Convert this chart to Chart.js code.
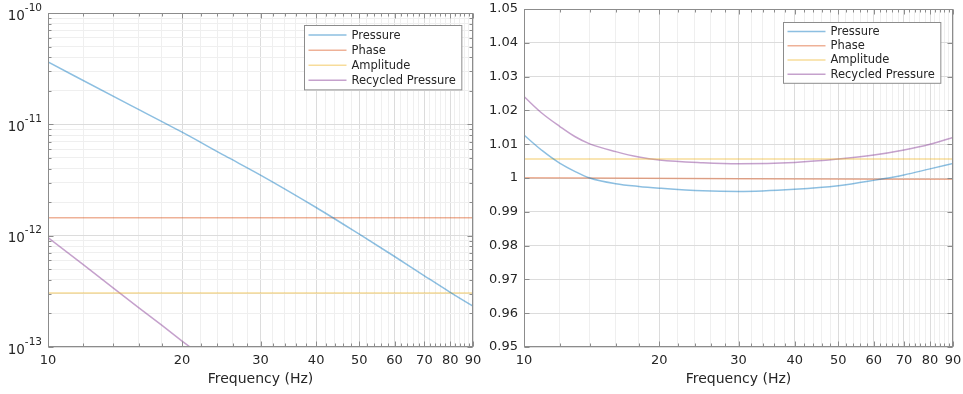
<!DOCTYPE html>
<html>
<head>
<meta charset="utf-8">
<script src="https://cdn.jsdelivr.net/npm/chart.js@4.4.1/dist/chart.umd.min.js"></script>
<style>
  html, body { margin: 0; padding: 0; background: #fff; }
  #leftChart { position: absolute; left: 0; top: 0; }
  #rightChart { position: absolute; left: 482px; top: 0; }
</style>
</head>
<body>
<canvas id="leftChart" width="482" height="394"></canvas>
<canvas id="rightChart" width="481" height="394"></canvas>
<script>
// ---- data ----
const seriesNames = ["Pressure", "Phase", "Amplitude", "Recycled Pressure"];
const seriesColors = ["rgba(0,114,189,0.45)", "rgba(217,83,25,0.45)", "rgba(237,177,32,0.45)", "rgba(126,47,142,0.45)"];

const xTickLabels = [10, 20, 30, 40, 50, 60, 70, 80, 90];

// left panel (log-log)
const leftFreq = [10, 15, 20, 25, 30, 40, 50, 60, 70, 80, 90];
const leftPressure = [3.63e-11, 1.55e-11, 8.5e-12, 5.2e-12, 3.5e-12, 1.79e-12, 1.03e-12, 6.5e-13, 4.36e-13, 3.1e-13, 2.33e-13];
const leftFlatFreq = [10, 90];
const leftPhase = [1.45e-12, 1.45e-12];
const leftAmplitude = [3.05e-13, 3.05e-13];
const leftRecycledFreq = [10, 12, 14, 16, 18, 20, 22];
const leftRecycled = [9.6e-13, 5.5e-13, 3.4e-13, 2.25e-13, 1.57e-13, 1.13e-13, 8.5e-14];

// right panel (log x, linear y)
const rightFreq = [10, 11, 12, 13, 14, 16, 18, 20, 25, 30, 40, 50, 60, 70, 80, 90];
const rightPressure = [1.0127, 1.0080, 1.0044, 1.0019, 1.0000, 0.9983, 0.9975, 0.9970, 0.9962, 0.9960, 0.99665, 0.9977, 0.9993, 1.0009, 1.0027, 1.0043];
const rightRecycled = [1.0241, 1.0190, 1.0153, 1.0122, 1.0101, 1.0078, 1.0062, 1.0053, 1.0045, 1.0042, 1.0046, 1.0056, 1.0068, 1.0083, 1.0100, 1.0120];
const rightPhaseFreq = [10, 30, 90];
const rightPhase = [1.0001, 0.9998, 0.9996];
const rightFlatFreq = [10, 90];
const rightAmplitude = [1.0056, 1.0056];

const textColor = "#262626";
const frameColor = "#8c8c8c";
const font = "'DejaVu Sans', sans-serif";

function pts(xs, ys) {
    return xs.map((x, i) => ({ x: x, y: ys[i] }));
}

function line(label, i, data, smooth) {
    return {
        label: label,
        data: data,
        borderColor: seriesColors[i],
        borderWidth: 1.5,
        pointRadius: 0,
        fill: false,
        cubicInterpolationMode: smooth ? "monotone" : "default",
        tension: 0
    };
}

// box, inward tick marks, legend and 10^n labels, matlab style
const axesFrame = {
    id: "axesFrame",
    afterDraw(chart, args, opts) {
        const ctx = chart.ctx, a = chart.chartArea;
        const xs = chart.scales.x, ys = chart.scales.y;
        const L = Math.round(a.left) + 0.5, R = Math.round(a.right) - 0.5;
        const T = Math.round(a.top) + 0.5, B = Math.round(a.bottom) - 0.5;

        ctx.save();
        ctx.strokeStyle = frameColor;
        ctx.lineWidth = 1;
        ctx.beginPath();
        xs.ticks.forEach(t => {
            const px = Math.round(xs.getPixelForValue(t.value)) + 0.5;
            const len = t.major ? 5 : 3;
            ctx.moveTo(px, B); ctx.lineTo(px, B - len);
            ctx.moveTo(px, T); ctx.lineTo(px, T + len);
        });
        ys.ticks.forEach(t => {
            const py = Math.round(ys.getPixelForValue(t.value)) + 0.5;
            const len = t.major ? 5 : 3;
            ctx.moveTo(L, py); ctx.lineTo(L + len, py);
            ctx.moveTo(R, py); ctx.lineTo(R - len, py);
        });
        ctx.stroke();
        ctx.strokeRect(L, T, R - L, B - T);

        // y labels as 10^n
        if (opts.powerLabels) {
            ctx.fillStyle = textColor;
            ctx.textBaseline = "middle";
            ys.ticks.filter(t => t.major).forEach(t => {
                const py = ys.getPixelForValue(t.value);
                const exp = String(Math.round(Math.log10(t.value)));
                ctx.font = "10.5px " + font;
                const ew = ctx.measureText(exp).width;
                const ex = a.left - 6 - ew;
                ctx.textAlign = "left";
                ctx.fillText(exp, ex, py - 5);
                ctx.font = "13.5px " + font;
                ctx.textAlign = "right";
                ctx.fillText("10", ex, py + 3);
            });
        }

        // legend
        ctx.font = "11.5px " + font;
        const sets = chart.data.datasets;
        const textW = Math.max(...sets.map(d => ctx.measureText(d.label).width));
        const w = 4 + 38 + 5 + textW + 6;
        const h = opts.rowH * sets.length + 4;
        const bx = Math.round(a.right - opts.margin - w) + 0.5;
        const by = Math.round(a.top + opts.margin) + 0.5;
        ctx.fillStyle = "#fff";
        ctx.fillRect(bx, by, w, h);
        ctx.strokeStyle = frameColor;
        ctx.strokeRect(bx, by, w, h);
        sets.forEach((d, i) => {
            const cy = by + 2 + opts.rowH * (i + 0.5);
            ctx.strokeStyle = d.borderColor;
            ctx.lineWidth = 1.5;
            ctx.beginPath();
            ctx.moveTo(bx + 4, cy);
            ctx.lineTo(bx + 42, cy);
            ctx.stroke();
            ctx.fillStyle = textColor;
            ctx.textAlign = "left";
            ctx.textBaseline = "middle";
            ctx.fillText(d.label, bx + 47, cy + 0.5);
        });
        ctx.restore();
    }
};

function freqAxis() {
    return {
        type: "logarithmic",
        min: 10,
        max: 90,
        afterBuildTicks: scale => {
            const ticks = [];
            for (let f = 10; f <= 90; f += 2) {
                ticks.push({ value: f, major: f % 10 === 0 });
            }
            scale.ticks = ticks;
        },
        afterFit: scale => {
            scale.height = 47;
            scale.paddingLeft = 0;
            scale.paddingRight = 0;
        },
        grid: {
            drawTicks: false,
            color: c => (c.tick && c.tick.major ? "#dcdcdc" : "#efefef"),
            lineWidth: 1
        },
        border: { display: false },
        ticks: {
            autoSkip: false,
            maxRotation: 0,
            padding: 6,
            color: textColor,
            font: { family: font, size: 13 },
            callback: v => (xTickLabels.includes(v) ? String(v) : "")
        },
        title: {
            display: true,
            text: "Frequency (Hz)",
            color: textColor,
            font: { family: font, size: 14 },
            padding: { top: 2, bottom: 6 }
        }
    };
}

document.addEventListener("DOMContentLoaded", function () {

    Chart.defaults.font.family = font;

    new Chart(document.getElementById("leftChart"), {
        type: "line",
        data: {
            datasets: [
                line(seriesNames[0], 0, pts(leftFreq, leftPressure), true),
                line(seriesNames[1], 1, pts(leftFlatFreq, leftPhase), false),
                line(seriesNames[2], 2, pts(leftFlatFreq, leftAmplitude), false),
                line(seriesNames[3], 3, pts(leftRecycledFreq, leftRecycled), false)
            ]
        },
        options: {
            responsive: false,
            animation: false,
            layout: { padding: { left: 0, right: 9, top: 13, bottom: 0 } },
            plugins: {
                legend: { display: false },
                tooltip: { enabled: false },
                axesFrame: { powerLabels: true, margin: 12, rowH: 15.1 }
            },
            scales: {
                x: freqAxis(),
                y: {
                    type: "logarithmic",
                    min: 1e-13,
                    max: 1e-10,
                    afterBuildTicks: scale => {
                        const ticks = [];
                        for (let e = -13; e < -10; e++) {
                            for (let m = 1; m < 10; m++) {
                                ticks.push({ value: m * Math.pow(10, e), major: m === 1 });
                            }
                        }
                        ticks.push({ value: 1e-10, major: true });
                        scale.ticks = ticks;
                    },
                    afterFit: scale => {
                        scale.width = 48;
                        scale.paddingTop = 0;
                        scale.paddingBottom = 0;
                    },
                    grid: {
                        drawTicks: false,
                        color: c => (c.tick && c.tick.major ? "#dcdcdc" : "#efefef")
                    },
                    border: { display: false },
                    ticks: { display: false }
                }
            }
        },
        plugins: [axesFrame]
    });

    new Chart(document.getElementById("rightChart"), {
        type: "line",
        data: {
            datasets: [
                line(seriesNames[0], 0, pts(rightFreq, rightPressure), true),
                line(seriesNames[1], 1, pts(rightPhaseFreq, rightPhase), true),
                line(seriesNames[2], 2, pts(rightFlatFreq, rightAmplitude), false),
                line(seriesNames[3], 3, pts(rightFreq, rightRecycled), true)
            ]
        },
        options: {
            responsive: false,
            animation: false,
            layout: { padding: { left: 0, right: 10, top: 9, bottom: 0 } },
            plugins: {
                legend: { display: false },
                tooltip: { enabled: false },
                axesFrame: { powerLabels: false, margin: 13, rowH: 14.2 }
            },
            scales: {
                x: freqAxis(),
                y: {
                    type: "linear",
                    min: 0.95,
                    max: 1.05,
                    afterFit: scale => {
                        scale.width = 42;
                        scale.paddingTop = 0;
                        scale.paddingBottom = 0;
                    },
                    afterBuildTicks: scale => {
                        scale.ticks.forEach(t => { t.major = true; });
                    },
                    grid: { drawTicks: false, color: "#dcdcdc" },
                    border: { display: false },
                    ticks: {
                        stepSize: 0.01,
                        padding: 6,
                        color: textColor,
                        font: { family: font, size: 13 },
                        callback: v => String(Number(v.toFixed(2)))
                    }
                }
            }
        },
        plugins: [axesFrame]
    });

});
</script>
</body>
</html>
